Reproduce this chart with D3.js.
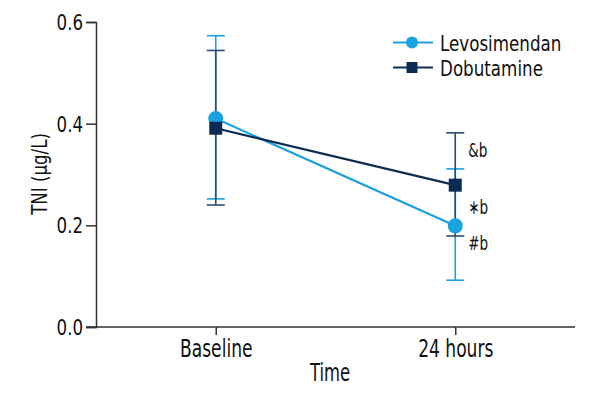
<!DOCTYPE html>
<html>
<head>
<meta charset="utf-8">
<script src="https://cdn.jsdelivr.net/npm/d3@7"></script>
<style>
  html, body { margin: 0; padding: 0; background: #fff; }
  svg { display: block; font-family: "DejaVu Sans Condensed", "DejaVu Sans", sans-serif; }
</style>
</head>
<body>
<svg id="chart" width="600" height="400"></svg>
<script>
const categories = ["Baseline", "24 hours"];
const seriesNames = ["Levosimendan", "Dobutamine"];
const levoMean = [0.41, 0.199];
const levoLow = [0.252, 0.092];
const levoHigh = [0.573, 0.311];
const dobuMean = [0.391, 0.279];
const dobuLow = [0.240, 0.179];
const dobuHigh = [0.544, 0.382];
const yTicks = [0.0, 0.2, 0.4, 0.6];
const annotations = [
  { text: "&b", cat: "24 hours", value: 0.335 },
  { text: "\u2217b", cat: "24 hours", value: 0.222 },
  { text: "#b", cat: "24 hours", value: 0.151 }
];

const colLevo = "#1ba1de";
const colDobu = "#0c2b52";
const colDobuErr = "#2e4b6e";

const svg = d3.select("#chart");
const margin = { left: 96, right: 25, top: 22, bottom: 73 };
const W = 600, H = 400;

// horizontally condense text to mimic a condensed face
function condense(sel, factor) {
  sel.each(function () {
    const len = this.getComputedTextLength();
    d3.select(this).attr("textLength", len * factor).attr("lengthAdjust", "spacingAndGlyphs");
  });
}

const x = d3.scalePoint().domain(categories).range([margin.left, W - margin.right]).padding(0.5);
const y = d3.scaleLinear().domain([0, 0.6]).range([H - margin.bottom, margin.top]);

// axes
const yAxis = d3.axisLeft(y).tickValues(yTicks).tickFormat(d3.format(".1f")).tickSizeOuter(0).tickSize(10);
const gy = svg.append("g").attr("transform", `translate(${margin.left},0)`).call(yAxis);
gy.attr("font-family", null);
gy.select(".domain").attr("stroke", "#333").attr("stroke-width", 1.5);
gy.selectAll(".tick line").attr("stroke", "#333").attr("stroke-width", 1.5);
gy.selectAll(".tick text").attr("font-size", 21).attr("fill", "#111").attr("x", -13).attr("dy", "0.36em");
condense(gy.selectAll(".tick text"), 0.88);

const xAxis = d3.axisBottom(x).tickSizeOuter(0).tickSize(8);
const gx = svg.append("g").attr("transform", `translate(0,${H - margin.bottom})`).call(xAxis);
gx.attr("font-family", null);
gx.select(".domain").attr("stroke", "#333").attr("stroke-width", 1.5).attr("d", `M${margin.left - 10},0H${W - margin.right}`);
gx.selectAll(".tick line").attr("stroke", "#333").attr("stroke-width", 1.5);
gx.selectAll(".tick text").attr("font-size", 25).attr("fill", "#111").attr("y", 30).attr("dy", 0);
condense(gx.selectAll(".tick text"), 0.76);

// axis titles
const tTime = svg.append("text").attr("x", 330).attr("y", 381).attr("text-anchor", "middle")
  .attr("font-size", 24).attr("fill", "#111").text("Time");
condense(tTime, 0.76);
const tY = svg.append("text").attr("transform", `translate(47,174) rotate(-90)`)
  .attr("text-anchor", "middle").attr("font-size", 22).attr("fill", "#111").text("TNI (\u03bcg/L)");
condense(tY, 0.84);

const capW = 9;
function errorBars(mean, low, high, color) {
  const g = svg.append("g").attr("stroke", color).attr("stroke-width", 1.6).attr("fill", "none");
  categories.forEach((c, i) => {
    const cx = x(c);
    g.append("line").attr("x1", cx).attr("x2", cx).attr("y1", y(low[i])).attr("y2", y(high[i]));
    g.append("line").attr("x1", cx - capW).attr("x2", cx + capW).attr("y1", y(low[i])).attr("y2", y(low[i]));
    g.append("line").attr("x1", cx - capW).attr("x2", cx + capW).attr("y1", y(high[i])).attr("y2", y(high[i]));
  });
}
errorBars(levoMean, levoLow, levoHigh, colLevo);
errorBars(dobuMean, dobuLow, dobuHigh, colDobuErr);

const line = d3.line().x((d, i) => x(categories[i])).y(d => y(d));
svg.append("path").datum(levoMean).attr("d", line).attr("stroke", colLevo).attr("stroke-width", 2.2).attr("fill", "none");
svg.append("path").datum(dobuMean).attr("d", line).attr("stroke", colDobu).attr("stroke-width", 2.2).attr("fill", "none");

svg.selectAll(".levo").data(levoMean).enter().append("circle")
  .attr("cx", (d, i) => x(categories[i])).attr("cy", d => y(d)).attr("r", 7.5).attr("fill", colLevo);
const sq = 13;
svg.selectAll(".dobu").data(dobuMean).enter().append("rect")
  .attr("x", (d, i) => x(categories[i]) - sq / 2).attr("y", d => y(d) - sq / 2)
  .attr("width", sq).attr("height", sq).attr("fill", colDobu);

// annotations
const ann = svg.selectAll(".ann").data(annotations).enter().append("text")
  .attr("x", d => x(d.cat) + 13).attr("y", d => y(d.value))
  .attr("font-size", 20).attr("fill", "#111").text(d => d.text);
condense(ann, 0.75);

// legend
const leg = svg.append("g");
const legItems = [
  { name: seriesNames[0], color: colLevo, shape: "circle", y: 42.5 },
  { name: seriesNames[1], color: colDobu, shape: "square", y: 67.5 }
];
legItems.forEach(it => {
  leg.append("line").attr("x1", 393).attr("x2", 433).attr("y1", it.y).attr("y2", it.y)
    .attr("stroke", it.color).attr("stroke-width", 2);
  if (it.shape === "circle") {
    leg.append("circle").attr("cx", 412).attr("cy", it.y).attr("r", 6).attr("fill", it.color);
  } else {
    leg.append("rect").attr("x", 412 - 5.5).attr("y", it.y - 5.5).attr("width", 11).attr("height", 11).attr("fill", it.color);
  }
  const t = leg.append("text").attr("x", 440).attr("y", it.y + 8).attr("font-size", 21).attr("fill", "#111").text(it.name);
  condense(t, 0.885);
});
</script>
</body>
</html>
